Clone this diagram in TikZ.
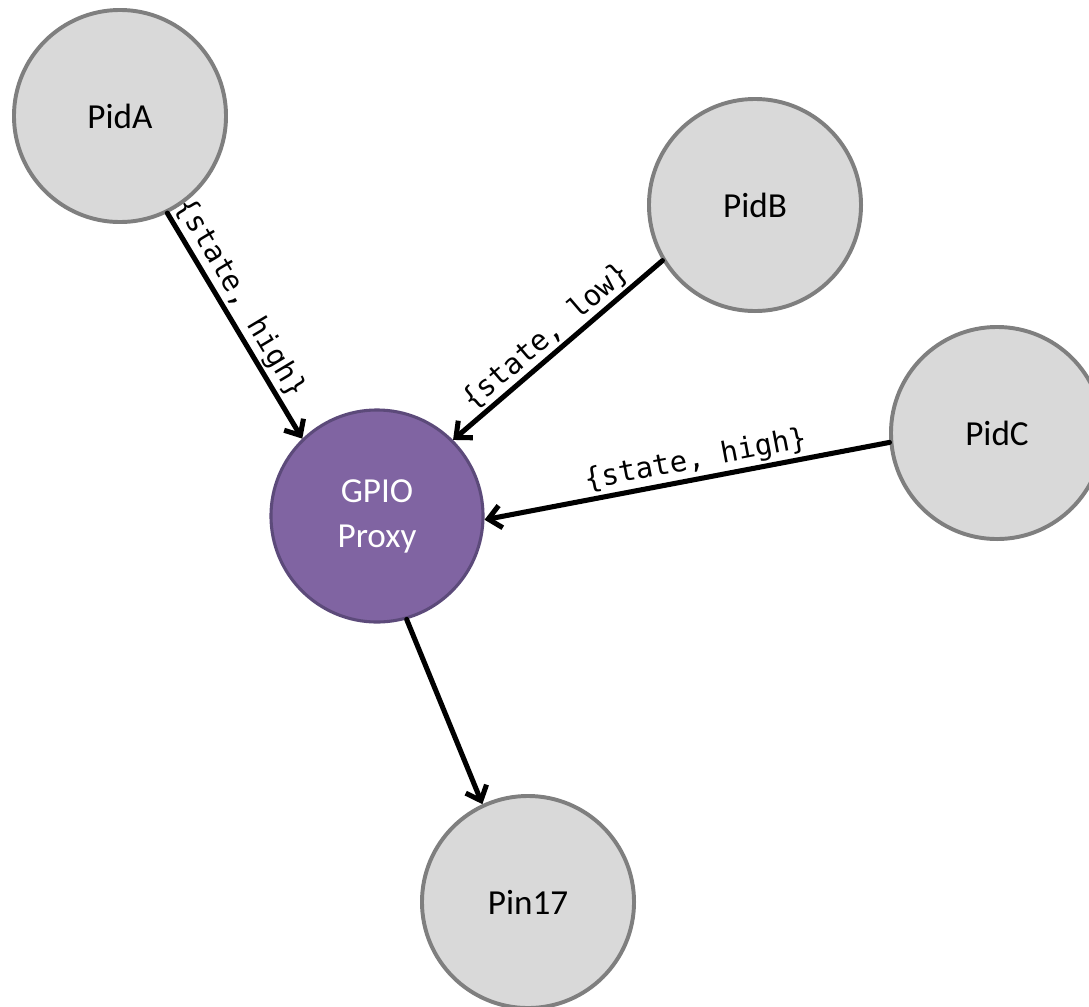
\documentclass[tikz,border=0pt]{standalone}
\usepackage{fontspec}
\setmainfont{Carlito}
\newfontfamily\codefont{DejaVu Sans Mono}
\usetikzlibrary{arrows.meta}
\definecolor{pidfill}{HTML}{D9D9D9}
\definecolor{piddraw}{HTML}{7F7F7F}
\definecolor{proxyfill}{HTML}{8064A2}
\definecolor{proxydraw}{HTML}{5C4A7A}
\begin{document}
\begin{tikzpicture}[x=0.025cm, y=-0.025cm, line join=round, line cap=round,
	pid/.style={circle, draw=piddraw, fill=pidfill, line width=2.8pt, minimum size=5.3cm, inner sep=0pt, font=\fontsize{25}{32}\selectfont},
	proxy/.style={pid, draw=proxydraw, fill=proxyfill, line width=2.2pt, text=white, align=center},
	msg/.style={-{Straight Barb[length=9pt,width=16pt]}, line width=3.6pt},
	lbl/.style={sloped, above, inner sep=1.5pt, font=\codefont\fontsize{20.5}{24}\selectfont}]
	\useasboundingbox (0,0) rectangle (1089,1006);
	\node[pid] (pidA) at (120,116) {PidA};
	\node[pid] (pidB) at (755,205) {PidB};
	\node[pid] (pidC) at (997,433) {PidC};
	\node[proxy] (gpio) at (377,516) {GPIO\\Proxy};
	\node[pid] (pin) at (528,902) {Pin17};
	\draw[msg] (pidA.296) -- node[lbl, pos=0.42]{\{state, high\}} (gpio.134);
	\draw[msg] (pidB.211) -- node[lbl, pos=0.5]{\{state, low\}} (gpio.45);
	\draw[msg] (pidC.185) -- node[lbl, pos=0.47]{\{state, high\}} (gpio.358);
	\draw[msg] (gpio.286) -- (pin.115);
\end{tikzpicture}
\end{document}
